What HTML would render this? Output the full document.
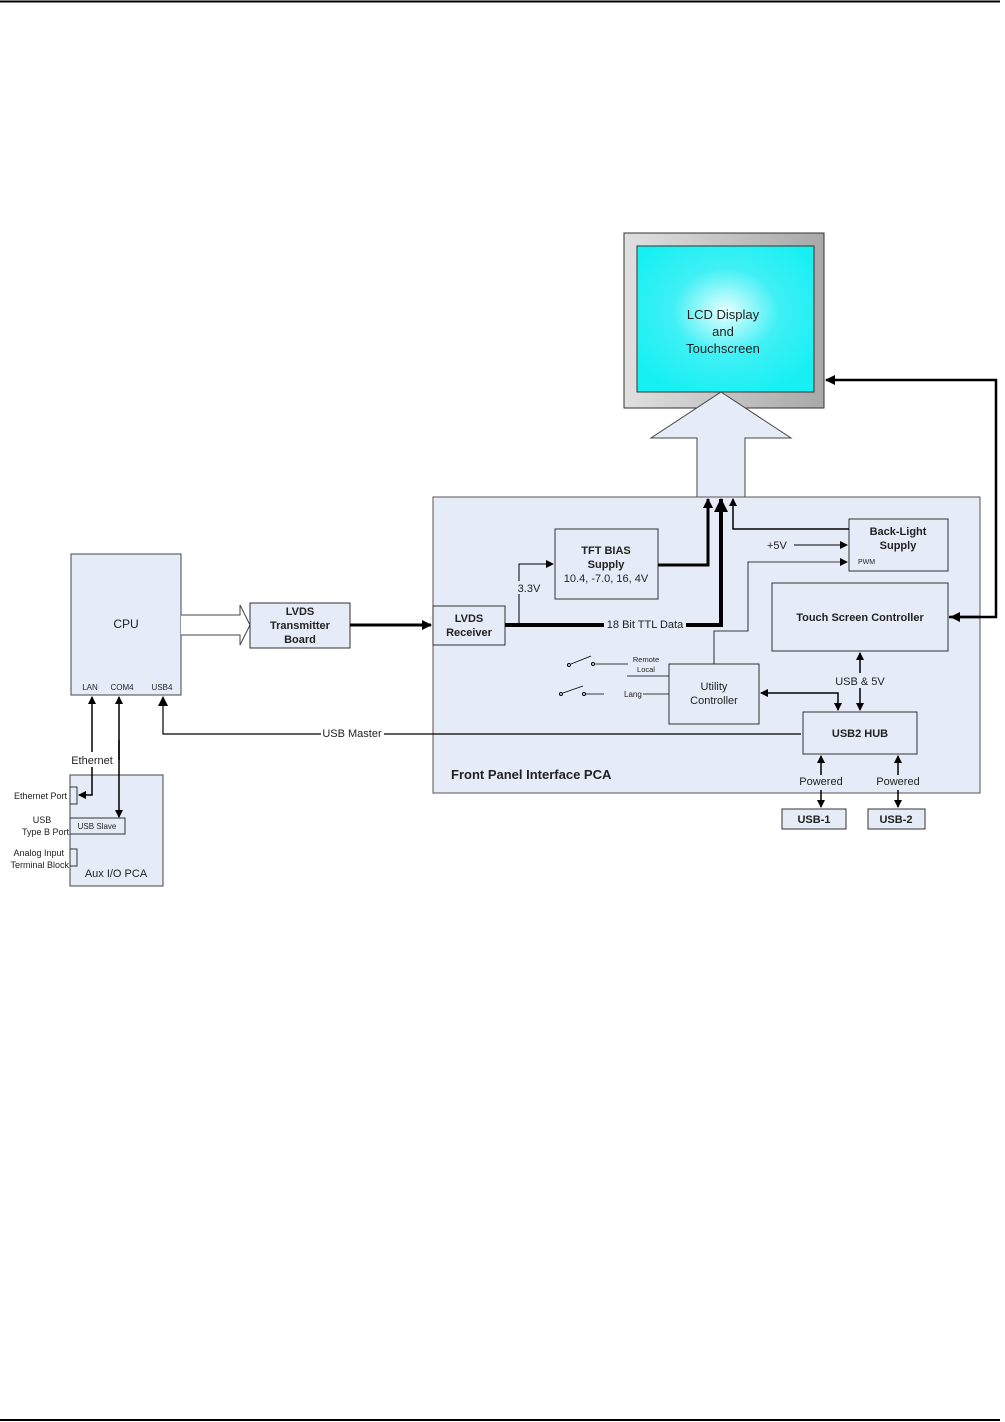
<!DOCTYPE html>
<html><head><meta charset="utf-8"><style>
html,body{margin:0;padding:0;background:#fff}
svg{display:block}
text{font-family:"Liberation Sans",Arial,sans-serif;fill:#222}
.b{font-weight:bold}
</style></head><body>
<svg width="1005" height="1422" viewBox="0 0 1005 1422" xmlns="http://www.w3.org/2000/svg">
<defs>
<marker id="a" markerWidth="10" markerHeight="10" refX="9" refY="5" orient="auto" markerUnits="userSpaceOnUse"><path d="M0,0 L10,5 L0,10 z" fill="#000"/></marker>
<marker id="as" markerWidth="8" markerHeight="8" refX="7" refY="4" orient="auto" markerUnits="userSpaceOnUse"><path d="M0,0 L8,4 L0,8 z" fill="#000"/></marker>
<marker id="ass" markerWidth="8" markerHeight="8" refX="1" refY="4" orient="auto" markerUnits="userSpaceOnUse"><path d="M8,0 L0,4 L8,8 z" fill="#000"/></marker>
<marker id="ab" markerWidth="14" markerHeight="14" refX="13" refY="7" orient="auto" markerUnits="userSpaceOnUse"><path d="M0,0 L14,7 L0,14 z" fill="#000"/></marker>
<radialGradient id="cy" cx="50%" cy="45%" r="60%"><stop offset="0" stop-color="#e8ffff"/><stop offset="0.5" stop-color="#3ff0f5"/><stop offset="1" stop-color="#17f0f3"/></radialGradient>
<linearGradient id="gr" x1="0" x2="1"><stop offset="0" stop-color="#e0e0e0"/><stop offset="1" stop-color="#a8a8a8"/></linearGradient>
</defs>
<line x1="0" y1="1.5" x2="1000" y2="1.5" stroke="#000" stroke-width="2"/>
<line x1="0" y1="1420" x2="1000" y2="1420" stroke="#000" stroke-width="2"/>

<rect x="624" y="233" width="200" height="175" fill="url(#gr)" stroke="#333"/>
<rect x="637" y="246" width="177" height="146" fill="url(#cy)" stroke="#333"/>
<text x="723" y="319" font-size="13" text-anchor="middle">LCD Display</text>
<text x="723" y="336" font-size="13" text-anchor="middle">and</text>
<text x="723" y="353" font-size="13" text-anchor="middle">Touchscreen</text>
<path d="M721,392 L791,438 L745,438 L745,497 L697,497 L697,438 L651,438 z" fill="#e6ecf7" stroke="#444"/>

<rect x="433" y="497" width="547" height="296" fill="#e6ecf7" stroke="#555"/>
<text x="451" y="779" font-size="13" class="b">Front Panel Interface PCA</text>

<rect x="555" y="529" width="103" height="70" fill="#e6ecf7" stroke="#333"/>
<text x="606" y="554" font-size="11" class="b" text-anchor="middle">TFT BIAS</text>
<text x="606" y="568" font-size="11" class="b" text-anchor="middle">Supply</text>
<text x="606" y="582" font-size="11" text-anchor="middle">10.4, -7.0, 16, 4V</text>

<rect x="433" y="606" width="72" height="39" fill="#e6ecf7" stroke="#333"/>
<text x="469" y="622" font-size="11" class="b" text-anchor="middle">LVDS</text>
<text x="469" y="636" font-size="11" class="b" text-anchor="middle">Receiver</text>

<rect x="849" y="519" width="99" height="52" fill="#e6ecf7" stroke="#333"/>
<text x="898" y="535" font-size="11" class="b" text-anchor="middle">Back-Light</text>
<text x="898" y="549" font-size="11" class="b" text-anchor="middle">Supply</text>
<text x="858" y="564" font-size="7">PWM</text>

<rect x="772" y="583" width="176" height="68" fill="#e6ecf7" stroke="#333"/>
<text x="860" y="621" font-size="11" class="b" text-anchor="middle">Touch Screen Controller</text>

<rect x="669" y="664" width="90" height="60" fill="#e6ecf7" stroke="#333"/>
<text x="714" y="690" font-size="11" text-anchor="middle">Utility</text>
<text x="714" y="704" font-size="11" text-anchor="middle">Controller</text>

<rect x="803" y="712" width="114" height="42" fill="#e6ecf7" stroke="#333"/>
<text x="860" y="737" font-size="11" class="b" text-anchor="middle">USB2 HUB</text>

<rect x="782" y="809" width="64" height="20" fill="#e6ecf7" stroke="#333"/>
<text x="814" y="823" font-size="11" class="b" text-anchor="middle">USB-1</text>
<rect x="868" y="809" width="57" height="20" fill="#e6ecf7" stroke="#333"/>
<text x="896" y="823" font-size="11" class="b" text-anchor="middle">USB-2</text>

<polyline points="658,565 708,565 708,499" fill="none" stroke="#000" stroke-width="3" marker-end="url(#a)"/>
<polyline points="505,625 721,625 721,499" fill="none" stroke="#000" stroke-width="4" marker-end="url(#ab)"/>
<rect x="604" y="618" width="82" height="13" fill="#e6ecf7"/>
<text x="645" y="628" font-size="11" text-anchor="middle">18 Bit TTL Data</text>
<polyline points="519,625 519,564 553,564" fill="none" stroke="#000" stroke-width="1" marker-end="url(#as)"/>
<rect x="516" y="581" width="26" height="13" fill="#e6ecf7"/>
<text x="529" y="592" font-size="11" text-anchor="middle">3.3V</text>
<polyline points="849,529 733,529 733,499" fill="none" stroke="#000" stroke-width="1.5" marker-end="url(#as)"/>
<text x="767" y="549" font-size="11">+5V</text>
<line x1="794" y1="545" x2="847" y2="545" stroke="#000" stroke-width="1" marker-end="url(#as)"/>
<polyline points="714,664 714,631 748,631 748,562 847,562" fill="none" stroke="#000" stroke-width="0.8" marker-end="url(#as)"/>
<polyline points="949,617 996,617 996,380 826,380" fill="none" stroke="#000" stroke-width="2.5" marker-end="url(#a)"/>
<line x1="980" y1="617" x2="951" y2="617" stroke="#000" stroke-width="2.5" marker-end="url(#a)"/>
<line x1="860" y1="673" x2="860" y2="653" stroke="#000" stroke-width="1.5" marker-end="url(#as)"/>
<line x1="860" y1="688" x2="860" y2="710" stroke="#000" stroke-width="1.5" marker-end="url(#as)"/>
<text x="860" y="685" font-size="11" text-anchor="middle">USB &amp; 5V</text>
<polyline points="761,693 838,693 838,710" fill="none" stroke="#000" stroke-width="1.5" marker-start="url(#ass)" marker-end="url(#as)"/>
<line x1="821" y1="775" x2="821" y2="756" stroke="#000" stroke-width="1.5" marker-end="url(#as)"/>
<line x1="821" y1="790" x2="821" y2="807" stroke="#000" stroke-width="1.5" marker-end="url(#as)"/>
<text x="821" y="785" font-size="11" text-anchor="middle">Powered</text>
<line x1="898" y1="775" x2="898" y2="756" stroke="#000" stroke-width="1.5" marker-end="url(#as)"/>
<line x1="898" y1="790" x2="898" y2="807" stroke="#000" stroke-width="1.5" marker-end="url(#as)"/>
<text x="898" y="785" font-size="11" text-anchor="middle">Powered</text>
<circle cx="569" cy="665" r="1.5" fill="none" stroke="#000"/><line x1="571" y1="664" x2="591" y2="656" stroke="#000" stroke-width="0.8"/>
<circle cx="593" cy="664" r="1.5" fill="none" stroke="#000"/><line x1="595" y1="664" x2="628" y2="664" stroke="#000" stroke-width="0.8"/>
<text x="646" y="662" font-size="7.5" text-anchor="middle">Remote</text>
<text x="646" y="672" font-size="7.5" text-anchor="middle">Local</text>
<polyline points="627,676 669,676" fill="none" stroke="#000" stroke-width="0.8"/>
<circle cx="561" cy="694" r="1.5" fill="none" stroke="#000"/><line x1="563" y1="693" x2="583" y2="686" stroke="#000" stroke-width="0.8"/>
<circle cx="584" cy="694" r="1.5" fill="none" stroke="#000"/><line x1="586" y1="694" x2="604" y2="694" stroke="#000" stroke-width="0.8"/>
<text x="624" y="697" font-size="8">Lang</text>
<line x1="643" y1="694" x2="669" y2="694" stroke="#000" stroke-width="0.8"/>

<rect x="71" y="554" width="110" height="141" fill="#e6ecf7" stroke="#444"/>
<text x="126" y="628" font-size="12" text-anchor="middle">CPU</text>
<text x="90" y="690" font-size="8" text-anchor="middle">LAN</text>
<text x="122" y="690" font-size="8" text-anchor="middle">COM4</text>
<text x="162" y="690" font-size="8" text-anchor="middle">USB4</text>
<path d="M181,615 L240,615 L240,605 L250,625 L240,645 L240,635 L181,635" fill="#fff" stroke="#444"/>
<rect x="250" y="603" width="100" height="45" fill="#e6ecf7" stroke="#333"/>
<text x="300" y="615" font-size="11" class="b" text-anchor="middle">LVDS</text>
<text x="300" y="629" font-size="11" class="b" text-anchor="middle">Transmitter</text>
<text x="300" y="643" font-size="11" class="b" text-anchor="middle">Board</text>
<line x1="350" y1="625" x2="431" y2="625" stroke="#000" stroke-width="3" marker-end="url(#a)"/>
<polyline points="801,734 163,734 163,697" fill="none" stroke="#000" stroke-width="1.2" marker-end="url(#a)"/>
<rect x="321" y="727" width="63" height="12" fill="#fff"/>
<text x="352" y="737" font-size="11" text-anchor="middle">USB Master</text>

<rect x="70" y="775" width="93" height="111" fill="#e6ecf7" stroke="#444"/>
<text x="116" y="877" font-size="11" text-anchor="middle">Aux I/O PCA</text>
<rect x="70" y="787" width="7" height="17" fill="#e6ecf7" stroke="#333"/>
<rect x="70" y="818" width="55" height="16" fill="#e6ecf7" stroke="#333"/>
<text x="97" y="829" font-size="8" text-anchor="middle">USB Slave</text>
<rect x="70" y="849" width="7" height="17" fill="#e6ecf7" stroke="#333"/>
<text x="67" y="799" font-size="9" text-anchor="end">Ethernet Port</text>
<text x="42" y="823" font-size="9" text-anchor="middle">USB</text>
<text x="69" y="835" font-size="9" text-anchor="end">Type B Port</text>
<text x="64" y="856" font-size="9" text-anchor="end">Analog Input</text>
<text x="69" y="868" font-size="9" text-anchor="end">Terminal Block</text>
<line x1="92" y1="752" x2="92" y2="697" stroke="#000" stroke-width="1.5" marker-end="url(#as)"/>
<polyline points="92,767 92,795 79,795" fill="none" stroke="#000" stroke-width="1.5" marker-end="url(#as)"/>
<text x="92" y="764" font-size="11" text-anchor="middle">Ethernet</text>
<line x1="119" y1="760" x2="119" y2="697" stroke="#000" stroke-width="1.5" marker-end="url(#as)"/>
<line x1="119" y1="740" x2="119" y2="817" stroke="#000" stroke-width="1.5" marker-end="url(#as)"/>
</svg>
</body></html>
